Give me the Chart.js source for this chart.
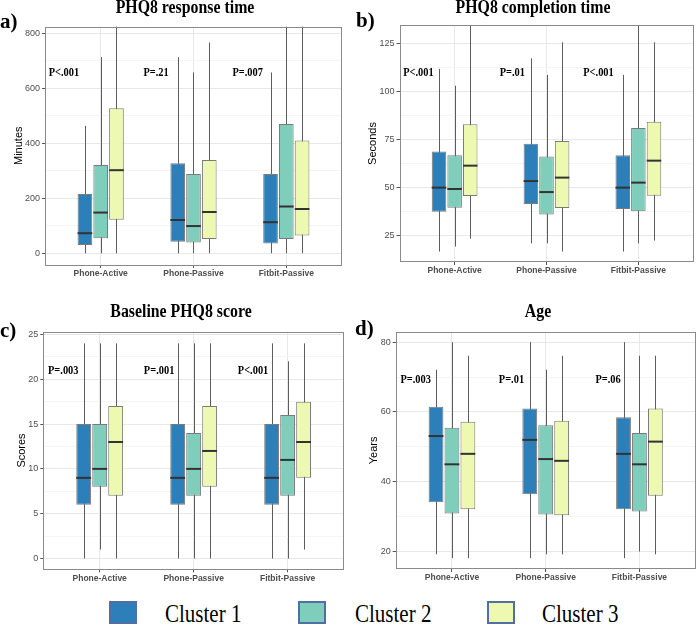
<!DOCTYPE html>
<html>
<head>
<meta charset="utf-8">
<script src="https://cdn.jsdelivr.net/npm/chart.js@4"></script>
<style>
  body { margin: 0; background: #fff; }
  #page { position: relative; width: 697px; height: 625px; overflow: hidden; background: #fff; }
  canvas { position: absolute; }
  .title { position: absolute; font: bold 18px "Liberation Serif", serif; line-height: 1; white-space: nowrap;
           transform: translateX(-50%) scaleX(0.88); color: #000; }
  .tag { position: absolute; font: bold 21px "Liberation Serif", serif; line-height: 1; color: #000; }
  .lbox { position: absolute; width: 24px; height: 19px; border: 2px solid #4f6fa6; }
  .ltext { position: absolute; font: 25px "Liberation Serif", serif; line-height: 1; white-space: nowrap;
           transform: scaleX(0.84); transform-origin: left top; color: #000; }
</style>
</head>
<body>
<div id="page">
  <canvas id="chartA" width="345" height="285" style="left:0;top:0"></canvas>
  <canvas id="chartB" width="347" height="282" style="left:350px;top:0"></canvas>
  <canvas id="chartC" width="348" height="290" style="left:0;top:300px"></canvas>
  <canvas id="chartD" width="347" height="290" style="left:350px;top:300px"></canvas>

  <div class="title" style="left:185px;top:-2px">PHQ8 response time</div>
  <div class="title" style="left:533px;top:-2.5px">PHQ8 completion time</div>
  <div class="title" style="left:181px;top:301.5px">Baseline PHQ8 score</div>
  <div class="title" style="left:538px;top:301.5px">Age</div>
  <div class="tag" style="left:0;top:11px">a)</div>
  <div class="tag" style="left:356px;top:9.5px">b)</div>
  <div class="tag" style="left:0;top:319.5px">c)</div>
  <div class="tag" style="left:355px;top:318px">d)</div>

  <div id="legend"></div>
</div>
<script>
// categories + clusters
const categories = ['Phone-Active', 'Phone-Passive', 'Fitbit-Passive'];
const clusterNames = ['Cluster 1', 'Cluster 2', 'Cluster 3'];
const clusterColors = ['#2c7fb8', '#7fcdbb', '#edf8b1'];

// box stats: one row per cluster, one column per category
// a) PHQ8 response time (minutes)
const respMin = [[0, 0, 0], [0, 0, 0], [0, 0, 0]];
const respQ1  = [[30, 42, 36], [55, 39, 52], [122, 52, 65]];
const respMed = [[73, 121, 113], [148, 99, 170], [302, 150, 161]];
const respQ3  = [[215, 327, 288], [321, 288, 470], [527, 339, 410]];
const respMax = [[463, 713, 657], [713, 657, 900], [900, 766, 900]];
const respP   = ['P<.001', 'P=.21', 'P=.007'];

// b) PHQ8 completion time (seconds)
const compMin = [[16.9, 21.2, 16.9], [19.5, 21.2, 21.2], [23.6, 16.9, 22.6]];
const compQ1  = [[37.6, 41.6, 39], [39.7, 36.2, 37.8], [45.8, 39.5, 45.9]];
const compMed = [[50.1, 53.5, 50.1], [49.4, 47.8, 52.7], [61.5, 55.3, 64.1]];
const compQ3  = [[68.9, 72.9, 66.9], [66.9, 66.2, 81], [83, 74.3, 84.3]];
const compMax = [[111.7, 117.2, 108.6], [103, 108.6, 140], [140, 125.5, 125.5]];
const compP   = ['P<.001', 'P=.01', 'P<.001'];

// c) Baseline PHQ8 score
const scoreMin = [[0, 0, 0], [1, 0, 0], [0, 0, 1]];
const scoreQ1  = [[6, 6, 6], [8, 7, 7], [7, 8, 9]];
const scoreMed = [[9, 9, 9], [10, 10, 11], [13, 12, 13]];
const scoreQ3  = [[15, 15, 15], [15, 14, 16], [17, 17, 17.5]];
const scoreMax = [[24, 24, 24], [24, 24, 22], [24, 24, 24]];
const scoreP   = ['P=.003', 'P=.001', 'P<.001'];

// d) Age (years)
const ageMin = [[19.2, 18.1, 18.1], [18.1, 19.2, 20], [18.1, 19.2, 19.2]];
const ageQ1  = [[34.1, 36.4, 32.1], [30.9, 30.6, 31.5], [32.1, 30.4, 36]];
const ageMed = [[53.1, 52, 48], [45, 46.5, 45], [48, 46, 51.5]];
const ageQ3  = [[61.5, 61, 58.5], [55.5, 56.2, 54], [57.2, 57.5, 61]];
const ageMax = [[72.1, 80, 80], [80, 72.1, 76.1], [76.1, 76.1, 76.1]];
const ageP   = ['P=.003', 'P=.01', 'P=.06'];

// axis ticks
const respTicks  = [0, 200, 400, 600, 800];
const compTicks  = [25, 50, 75, 100, 125];
const scoreTicks = [0, 5, 10, 15, 20, 25];
const ageTicks   = [20, 40, 60, 80];


// whiskers behind boxes, medians + p-values + panel border on top
function makeBoxPlugin(st) {
  return {
    id: 'boxes',
    beforeDatasetsDraw(chart) {
      const {ctx, chartArea: a, scales: {y}} = chart;
      ctx.save();
      ctx.beginPath();
      ctx.rect(a.left, a.top, a.right - a.left, a.bottom - a.top);
      ctx.clip();
      ctx.strokeStyle = '#5c5c5c';
      ctx.lineWidth = 1;
      chart.data.datasets.forEach((ds, d) => {
        chart.getDatasetMeta(d).data.forEach((el, j) => {
          const x = Math.round(el.x) + 0.5;
          ctx.beginPath();
          ctx.moveTo(x, y.getPixelForValue(st.min[d][j]));
          ctx.lineTo(x, y.getPixelForValue(st.max[d][j]));
          ctx.stroke();
        });
      });
      ctx.restore();
    },
    afterDatasetsDraw(chart) {
      const {ctx, chartArea: a, scales: {x, y}} = chart;
      ctx.save();
      ctx.strokeStyle = '#333';
      ctx.lineWidth = 2;
      chart.data.datasets.forEach((ds, d) => {
        chart.getDatasetMeta(d).data.forEach((el, j) => {
          const yy = y.getPixelForValue(st.med[d][j]);
          ctx.beginPath();
          ctx.moveTo(el.x - el.width / 2, yy);
          ctx.lineTo(el.x + el.width / 2, yy);
          ctx.stroke();
        });
      });
      // p-value labels, squeezed a little like the source figure
      ctx.fillStyle = '#000';
      ctx.font = 'bold 13px "Liberation Serif"';
      ctx.textBaseline = 'middle';
      ctx.textAlign = 'left';
      st.p.forEach((t, i) => {
        ctx.save();
        ctx.translate(x.getPixelForValue(st.px[i]), y.getPixelForValue(st.py));
        ctx.scale(0.8, 1);
        ctx.fillText(t, 0, 0);
        ctx.restore();
      });
      ctx.strokeStyle = '#8a8a8a';
      ctx.lineWidth = 1;
      ctx.strokeRect(Math.round(a.left) + 0.5, Math.round(a.top) + 0.5,
                     Math.round(a.right - a.left) - 1, Math.round(a.bottom - a.top) - 1);
      ctx.restore();
    }
  };
}

function makePanel(c) {
  const el = document.getElementById(c.id);
  const W = el.width, H = el.height;
  const yw = c.area.left - c.left;
  const xh = c.top + H - c.area.bottom;
  const minors = [];
  for (let i = 0; i < c.ticks.length - 1; i++) minors.push((c.ticks[i] + c.ticks[i + 1]) / 2);
  const allTicks = c.ticks.concat(minors).filter(v => v >= c.ymin && v <= c.ymax);

  const datasets = clusterNames.map((name, d) => ({
    label: name,
    data: categories.map((cat, j) => ({x: j + 1, y: [c.q1[d][j], c.q3[d][j]]})),
    backgroundColor: clusterColors[d],
    borderColor: '#7a7a7a',
    borderWidth: 1,
    borderSkipped: false,
    categoryPercentage: 0.51,
    barPercentage: 0.93
  }));

  return new Chart(el, {
    type: 'bar',
    data: {datasets},
    options: {
      responsive: false,
      animation: false,
      devicePixelRatio: 1,
      layout: {padding: {top: c.area.top - c.top, right: c.left + W - c.area.right, left: 0, bottom: 0}},
      plugins: {legend: {display: false}, tooltip: {enabled: false}},
      scales: {
        x: {
          type: 'linear', min: 0.4, max: 3.6, offset: false,
          afterBuildTicks: s => { s.ticks = categories.map((cat, j) => ({value: j + 1})); },
          afterFit: s => { s.height = xh; },
          ticks: {
            callback: v => categories[v - 1] || '',
            font: {family: 'Liberation Sans', size: 8.5, weight: 'bold'},
            color: '#4d4d4d', padding: 1, maxRotation: 0, autoSkip: false
          },
          grid: {color: '#e8e8e8', tickColor: '#555', tickLength: 3, offset: false},
          border: {display: false}
        },
        y: {
          type: 'linear', min: c.ymin, max: c.ymax,
          afterBuildTicks: s => { s.ticks = allTicks.map(v => ({value: v})); },
          afterFit: s => { s.width = yw; },
          ticks: {
            callback: v => c.ticks.includes(v) ? String(v) : '',
            font: {family: 'Liberation Sans', size: 9},
            color: '#4d4d4d', padding: 2, autoSkip: false
          },
          grid: {
            color: ctx => c.ticks.includes(ctx.tick.value) ? '#e8e8e8' : '#f5f5f5',
            tickColor: ctx => c.ticks.includes(ctx.tick.value) ? '#555' : 'rgba(0,0,0,0)',
            tickLength: 3
          },
          border: {display: false},
          title: {
            display: true, text: c.ytitle, color: '#000',
            font: {family: 'Liberation Sans', size: 11},
            padding: {top: c.ytitleX - c.left - 6.6, bottom: 0}
          }
        }
      }
    },
    plugins: [makeBoxPlugin({min: c.min, med: c.med, max: c.max, p: c.p, px: c.px, py: c.py})]
  });
}

makePanel({id: 'chartA', left: 0, top: 0, area: {left: 45, right: 342, top: 26.5, bottom: 265},
  ymin: -42.5, ymax: 824, ticks: respTicks, ytitle: 'Minutes', ytitleX: 19,
  min: respMin, q1: respQ1, med: respMed, q3: respQ3, max: respMax,
  p: respP, px: [0.44, 1.46, 2.42], py: 655});

makePanel({id: 'chartB', left: 350, top: 0, area: {left: 399.5, right: 693.5, top: 25, bottom: 262},
  ymin: 11.5, ymax: 134.5, ticks: compTicks, ytitle: 'Seconds', ytitleX: 373,
  min: compMin, q1: compQ1, med: compMed, q3: compQ3, max: compMax,
  p: compP, px: [0.44, 1.49, 2.4], py: 109.8});

makePanel({id: 'chartC', left: 0, top: 300, area: {left: 43.3, right: 344, top: 331.7, bottom: 569.3},
  ymin: -1.2, ymax: 25.3, ticks: scoreTicks, ytitle: 'Scores', ytitleX: 21.7,
  min: scoreMin, q1: scoreQ1, med: scoreMed, q3: scoreQ3, max: scoreMax,
  p: scoreP, px: [0.45, 1.47, 2.47], py: 21});

makePanel({id: 'chartD', left: 350, top: 300, area: {left: 395.7, right: 695.7, top: 331.7, bottom: 569},
  ymin: 15, ymax: 83, ticks: ageTicks, ytitle: 'Years', ytitleX: 374,
  min: ageMin, q1: ageQ1, med: ageMed, q3: ageQ3, max: ageMax,
  p: ageP, px: [0.45, 1.5, 2.53], py: 69.4});

// legend
const legendBoxX = [109, 298, 487];
const legendTextX = [165, 355, 542];
const leg = document.getElementById('legend');
clusterNames.forEach((name, i) => {
  const b = document.createElement('div');
  b.className = 'lbox';
  b.style.left = legendBoxX[i] + 'px';
  b.style.top = '601px';
  b.style.background = clusterColors[i];
  leg.appendChild(b);
  const t = document.createElement('div');
  t.className = 'ltext';
  t.style.left = legendTextX[i] + 'px';
  t.style.top = '600.8px';
  t.textContent = name;
  leg.appendChild(t);
});
</script>
</body>
</html>
